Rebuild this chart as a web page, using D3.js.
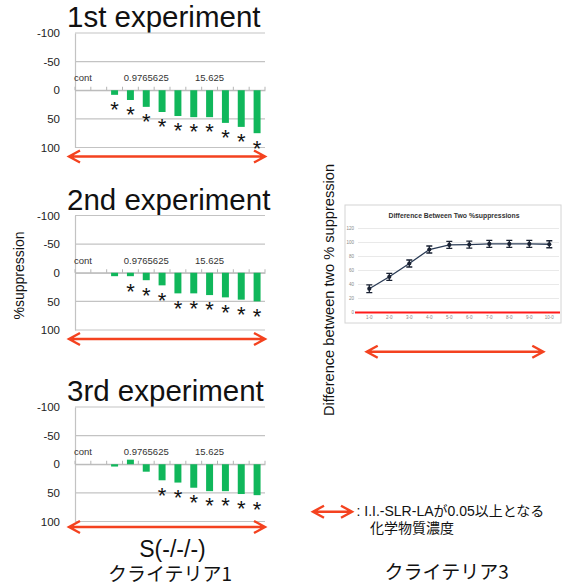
<!DOCTYPE html>
<html><head><meta charset="utf-8">
<script src="https://cdn.jsdelivr.net/npm/d3@7"></script>
<style>
body{margin:0;background:#fff}
svg{display:block}
</style></head><body>
<svg id="chart" width="573" height="587"></svg>
<script>
// Concentration series (two-fold dilution), "cont" = untreated control
const categories = ["cont","0.1220703125","0.244140625","0.48828125","0.9765625","1.953125","3.90625","7.8125","15.625","31.25","62.5","125"];
const shownLabels = ["cont","0.9765625","15.625"];
const yTicks = [-100,-50,0,50,100];
const titles = ["1st experiment","2nd experiment","3rd experiment"];

// %suppression per concentration for each experiment
const exp1 = [0,0,8,17,29,38,45,47,47,57,64,75];
const exp2 = [0,0,6,6,13,22,36,36,39,43,47,50];
const exp3 = [0,0,4,-8,13,28,32,41,47,47,52,54];
// significance flags (asterisk)
const sig1 = [0,0,1,1,1,1,1,1,1,1,1,1];
const sig2 = [0,0,0,1,1,1,1,1,1,1,1,1];
const sig3 = [0,0,0,0,0,1,1,1,1,1,1,1];

// Difference between two %suppressions (mean ± error)
const diffLabels = ["1-0","2-0","3-0","4-0","5-0","6-0","7-0","8-0","9-0","10-0"];
const diffMean = [34,51,70,90,96.5,97,98,98,98,97.5];
const diffErr = [5.5,5,5,5,5,5,5,5,5,5];
const diffTicks = [0,20,40,60,80,100,120];

const svg = d3.select("#chart");
const latin = "'Liberation Sans', Arial, sans-serif";
const mixed = "'Liberation Sans', Arial, 'Noto Sans CJK JP', sans-serif";
const cjk = "'Noto Sans CJK JP', 'Noto Sans', sans-serif";
const arrowColor = "#f4421f";
const barColor = "#10b75b";
const gridColor = "#c3c3c3";

function doubleArrow(g, x0, x1, y) {
  const head = 11, half = 6;
  g.append("path")
    .attr("d", `M${x0},${y}H${x1}M${x0+head},${y-half}L${x0},${y}L${x0+head},${y+half}M${x1-head},${y-half}L${x1},${y}L${x1-head},${y+half}`)
    .attr("fill", "none").attr("stroke", arrowColor)
    .attr("stroke-width", 2.4).attr("stroke-linejoin", "miter");
}

// ---- left: three bar-chart panels ----
const panels = [
  {title: titles[0], values: exp1, sig: sig1, top: 33,    arrowGap: 9},
  {title: titles[1], values: exp2, sig: sig2, top: 215.5, arrowGap: 9},
  {title: titles[2], values: exp3, sig: sig3, top: 407,   arrowGap: 5.5}
];
const panelH = 114.5;
const x = d3.scaleBand().domain(categories).range([75, 265]).paddingInner(0.56).paddingOuter(0.28);

panels.forEach(p => {
  const g = svg.append("g");
  const y = d3.scaleLinear().domain([-100, 100]).range([p.top, p.top + panelH]);

  g.append("text").text(p.title)
    .attr("x", 67).attr("y", p.top - 6)
    .attr("font-family", latin).attr("font-size", 29.5).attr("fill", "#111");

  // gridlines
  g.append("g").selectAll("line").data(yTicks).join("line")
    .attr("x1", 75).attr("x2", 265)
    .attr("y1", d => y(d)).attr("y2", d => y(d))
    .attr("stroke", gridColor).attr("stroke-width", 1.2);

  // value axis
  const ya = g.append("g").attr("transform", "translate(75,0)")
    .call(d3.axisLeft(y).tickValues(yTicks).tickSize(0).tickPadding(15).tickFormat(d => String(d)));
  ya.select(".domain").attr("stroke", gridColor).attr("stroke-width", 1.2);
  ya.selectAll("text").attr("font-family", latin).attr("font-size", 11.5).attr("fill", "#222");

  // category axis crossing at 0, labels above
  const xa = g.append("g").attr("transform", `translate(0,${y(0)})`)
    .call(d3.axisTop(x).tickSize(0).tickPadding(9)
      .tickFormat(d => shownLabels.includes(d) ? d : ""));
  xa.select(".domain").attr("stroke", "#b5b5b5").attr("stroke-width", 1.2);
  xa.selectAll("text").attr("font-family", latin).attr("font-size", 9.5).attr("fill", "#333");
  // boundary tick marks
  const bounds = d3.range(categories.length + 1).map(i => x.range()[0] + i * x.step());
  g.append("g").selectAll("line").data(bounds).join("line")
    .attr("x1", d => d).attr("x2", d => d)
    .attr("y1", y(0)).attr("y2", y(0) - 3.5)
    .attr("stroke", "#b5b5b5").attr("stroke-width", 1);

  // bars
  g.append("g").selectAll("rect").data(p.values.map((v, i) => ({c: categories[i], v})))
    .join("rect")
    .attr("x", d => x(d.c)).attr("width", x.bandwidth())
    .attr("y", d => Math.min(y(0), y(d.v)))
    .attr("height", d => Math.abs(y(d.v) - y(0)))
    .attr("fill", barColor);

  // significance asterisks just past each bar end
  const fs = 22;
  g.append("g").selectAll("text")
    .data(p.values.map((v, i) => ({c: categories[i], v, s: p.sig[i]})).filter(d => d.s))
    .join("text").text("*")
    .attr("x", d => x(d.c) + x.bandwidth() / 2)
    .attr("y", d => y(Math.max(d.v, 0)) + 10 + fs * 0.56)
    .attr("text-anchor", "middle")
    .attr("font-family", latin).attr("font-size", fs).attr("fill", "#111");

  doubleArrow(g, 69, 265, y(100) + p.arrowGap);
});

svg.append("text").text("%suppression")
  .attr("transform", "translate(23.5,275.5) rotate(-90)")
  .attr("text-anchor", "middle")
  .attr("font-family", latin).attr("font-size", 14).attr("fill", "#111");

svg.append("text").text("S(-/-/-)")
  .attr("x", 172.5).attr("y", 556.5).attr("text-anchor", "middle")
  .attr("font-family", latin).attr("font-size", 23).attr("fill", "#111");
svg.append("text").text("クライテリア1")
  .attr("x", 170).attr("y", 581).attr("text-anchor", "middle")
  .attr("font-family", cjk).attr("font-size", 19).attr("fill", "#111");

// ---- right: difference line chart ----
const rg = svg.append("g");
rg.append("rect").attr("x", 345).attr("y", 205).attr("width", 216).attr("height", 118)
  .attr("fill", "#fff").attr("stroke", "#d4d4d4").attr("stroke-width", 1);
rg.append("text").text("Difference Between Two %suppressions")
  .attr("x", 454).attr("y", 218).attr("text-anchor", "middle")
  .attr("textLength", 131).attr("lengthAdjust", "spacingAndGlyphs")
  .attr("font-family", latin).attr("font-weight", "bold").attr("font-size", 6.5).attr("fill", "#333");

const dx = d3.scaleBand().domain(diffLabels).range([359.3, 559.3]);
const dy = d3.scaleLinear().domain([0, 120]).range([312.5, 228.5]);

rg.append("g").selectAll("line").data(diffTicks.slice(1)).join("line")
  .attr("x1", 358).attr("x2", 559)
  .attr("y1", d => dy(d)).attr("y2", d => dy(d))
  .attr("stroke", "#e3e3e3").attr("stroke-width", 0.8);

const dya = rg.append("g").attr("transform", "translate(358,0)")
  .call(d3.axisLeft(dy).tickValues(diffTicks).tickSize(0).tickPadding(4));
dya.select(".domain").remove();
dya.selectAll("text").attr("font-family", latin).attr("font-size", 4.5).attr("fill", "#888");

const dxa = rg.append("g").attr("transform", `translate(0,${dy(0)})`)
  .call(d3.axisBottom(dx).tickSize(0).tickPadding(3.5));
dxa.select(".domain").remove();
dxa.selectAll("text").attr("font-family", latin).attr("font-size", 4.5).attr("fill", "#888");

// zero reference line
rg.append("line").attr("x1", 355).attr("x2", 560).attr("y1", dy(0)).attr("y2", dy(0))
  .attr("stroke", "#ff1a1a").attr("stroke-width", 2);

const pts = diffMean.map((m, i) => ({c: diffLabels[i], m, e: diffErr[i]}));
const cx = d => dx(d.c) + dx.bandwidth() / 2;
const lineColor = "#2a3b55";
rg.append("path").datum(pts)
  .attr("d", d3.line().x(cx).y(d => dy(d.m)))
  .attr("fill", "none").attr("stroke", lineColor).attr("stroke-width", 1.3);
const eb = rg.append("g").selectAll("g").data(pts).join("g");
eb.append("path")
  .attr("d", d => {
    const xc = cx(d), y0 = dy(d.m - d.e), y1 = dy(d.m + d.e);
    return `M${xc},${y0}V${y1}M${xc-3},${y0}H${xc+3}M${xc-3},${y1}H${xc+3}`;
  })
  .attr("fill", "none").attr("stroke", "#1a2233").attr("stroke-width", 1.3);
eb.append("circle").attr("cx", cx).attr("cy", d => dy(d.m)).attr("r", 2.1)
  .attr("fill", "#1a2233");

svg.append("text").text("Difference between two % suppression")
  .attr("transform", "translate(334,290) rotate(-90)")
  .attr("text-anchor", "middle")
  .attr("font-family", latin).attr("font-size", 14.6).attr("fill", "#111");

doubleArrow(svg.append("g"), 366.7, 543.3, 351.7);

// ---- legend ----
doubleArrow(svg.append("g"), 313, 352, 511.7);
svg.append("text").text(": I.I.-SLR-LAが0.05以上となる")
  .attr("x", 356.5).attr("y", 516)
  .attr("font-family", mixed).attr("font-size", 14).attr("fill", "#111");
svg.append("text").text("化学物質濃度")
  .attr("x", 370).attr("y", 533)
  .attr("font-family", mixed).attr("font-size", 14).attr("fill", "#111");

svg.append("text").text("クライテリア3")
  .attr("x", 446.7).attr("y", 578.5).attr("text-anchor", "middle")
  .attr("font-family", cjk).attr("font-size", 19).attr("fill", "#111");
</script>
</body></html>
